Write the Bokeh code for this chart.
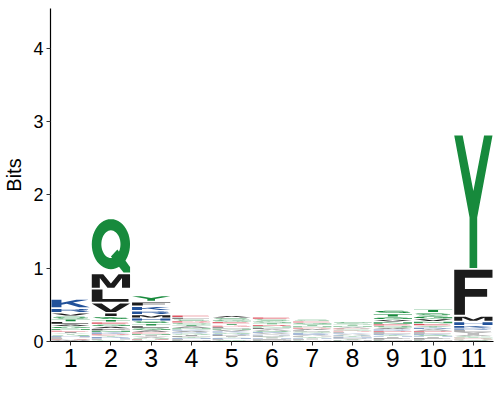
import math
from bokeh.plotting import figure
from bokeh.embed import file_html
from bokeh.resources import INLINE
from bokeh.models import ColumnDataSource, FixedTicker

# ---------------- data ----------------
positions = list(range(1, 12))
y_ticks = [0, 1, 2, 3, 4]

letters_1 = ["K","R","V","S","L","T","G","A","N","I","E","Y","Q","H","P","F","D","M","W","C"]
bits_1 = [0.124,0.065,0.045,0.04,0.035,0.035,0.03,0.03,0.025,0.02,0.02,0.018,0.016,0.015,0.014,0.012,0.011,0.01,0.008,0.007]

letters_2 = ["Q","M","L","V","I","S","T","A","G","E","N","F","K","Y","D","R","H","P","C","W"]
bits_2 = [0.75,0.21,0.19,0.14,0.05,0.04,0.035,0.03,0.03,0.03,0.025,0.025,0.022,0.02,0.02,0.018,0.015,0.012,0.01,0.008]

letters_3 = ["Y","F","K","R","M","H","S","T","G","L","A","E","N","I","V","Q","D","P","C","W"]
bits_3 = [0.085,0.065,0.06,0.055,0.045,0.04,0.035,0.032,0.03,0.03,0.025,0.022,0.02,0.018,0.016,0.015,0.012,0.01,0.008,0.007]

letters_4 = ["E","L","D","S","G","T","A","K","N","V","R","Q","I","P","Y","H","F","M","C","W"]
bits_4 = [0.028,0.026,0.025,0.025,0.024,0.023,0.022,0.02,0.02,0.019,0.018,0.017,0.016,0.015,0.014,0.013,0.012,0.009,0.007,0.005]

letters_5 = ["A","S","G","E","T","D","L","N","V","K","Q","R","P","I","Y","H","F","M","C","W"]
bits_5 = [0.03,0.028,0.026,0.025,0.024,0.022,0.021,0.02,0.019,0.018,0.017,0.016,0.015,0.014,0.013,0.012,0.01,0.009,0.008,0.006]

letters_6 = ["E","S","G","T","D","N","L","A","Q","K","V","R","P","Y","I","H","F","C","M","W"]
bits_6 = [0.028,0.026,0.025,0.024,0.023,0.021,0.02,0.019,0.018,0.017,0.016,0.015,0.014,0.013,0.012,0.011,0.01,0.008,0.008,0.005]

letters_7 = ["S","E","G","T","N","D","A","Q","L","K","R","V","P","Y","H","I","F","C","M","W"]
bits_7 = [0.024,0.023,0.022,0.021,0.02,0.019,0.018,0.017,0.017,0.016,0.015,0.014,0.013,0.012,0.011,0.01,0.009,0.008,0.007,0.005]

letters_8 = ["G","S","T","N","E","A","D","Q","K","L","R","V","P","Y","H","I","F","C","M","W"]
bits_8 = [0.02,0.019,0.018,0.017,0.016,0.016,0.015,0.015,0.014,0.014,0.013,0.013,0.012,0.012,0.011,0.01,0.01,0.009,0.008,0.007]

letters_9 = ["S","T","G","N","V","Q","E","A","L","D","R","K","Y","H","I","P","F","C","M","W"]
bits_9 = [0.05,0.045,0.035,0.03,0.03,0.025,0.025,0.022,0.02,0.02,0.02,0.018,0.016,0.014,0.013,0.012,0.01,0.009,0.008,0.006]

letters_10 = ["T","S","G","V","N","E","Y","A","R","L","D","K","Q","H","I","P","F","C","M","W"]
bits_10 = [0.05,0.045,0.04,0.035,0.03,0.028,0.025,0.022,0.022,0.02,0.02,0.018,0.016,0.014,0.013,0.012,0.01,0.009,0.008,0.006]

letters_11 = ["Y","F","M","H","K","L","R","I","V","A","S","T","G","E","D","N","Q","P","C","W"]
bits_11 = [1.83,0.64,0.08,0.055,0.035,0.025,0.025,0.02,0.02,0.015,0.014,0.01,0.008,0.008,0.007,0.007,0.006,0.006,0.005,0.005]

all_letters = [letters_1, letters_2, letters_3, letters_4, letters_5, letters_6,
               letters_7, letters_8, letters_9, letters_10, letters_11]
all_bits = [bits_1, bits_2, bits_3, bits_4, bits_5, bits_6,
            bits_7, bits_8, bits_9, bits_10, bits_11]

# ---------------- colours ----------------
GREEN, BLUE, RED, BLACK = "#178A3C", "#22529A", "#D62839", "#1B1B1B"
COLORS = {}
for c in "GSTYCQN":
    COLORS[c] = GREEN
for c in "KRH":
    COLORS[c] = BLUE
for c in "DE":
    COLORS[c] = RED
for c in "AVLIPWFM":
    COLORS[c] = BLACK

# ---------------- letter shapes (unit box) ----------------
def arc(cx, cy, rx, ry, a0, a1, n=28):
    pts = []
    for i in range(n + 1):
        a = math.radians(a0 + (a1 - a0) * i / n)
        pts.append((cx + rx * math.cos(a), cy + ry * math.sin(a)))
    return pts

def area(r):
    s = 0.0
    for i in range(len(r)):
        x0, y0 = r[i]
        x1, y1 = r[(i + 1) % len(r)]
        s += x0 * y1 - x1 * y0
    return 0.5 * s

def orient(r, ccw=True):
    if (area(r) > 0) != ccw:
        r = r[::-1]
    return r

def piece(ext, *holes):
    return [orient(ext, True)] + [orient(h, False) for h in holes]

def stroke(pts, hw):
    left, right = [], []
    n = len(pts)
    for i in range(n):
        p0 = pts[max(i - 1, 0)]
        p1 = pts[min(i + 1, n - 1)]
        dx, dy = p1[0] - p0[0], p1[1] - p0[1]
        L = math.hypot(dx, dy) or 1.0
        nx, ny = -dy / L, dx / L
        left.append((pts[i][0] + nx * hw, pts[i][1] + ny * hw))
        right.append((pts[i][0] - nx * hw, pts[i][1] - ny * hw))
    return left + right[::-1]

SHAPES = {}
SHAPES["A"] = [piece([(0,0),(0.26,0),(0.33,0.22),(0.67,0.22),(0.74,0),(1,0),(0.63,1),(0.37,1)],
                     [(0.39,0.38),(0.61,0.38),(0.5,0.72)])]
SHAPES["C"] = [piece(arc(0.5,0.5,0.5,0.5,40,320) + arc(0.5,0.5,0.25,0.29,320,40))]
SHAPES["D"] = [piece([(0,0),(0.45,0)] + arc(0.45,0.5,0.55,0.5,-90,90) + [(0.45,1),(0,1)],
                     [(0.26,0.19),(0.45,0.19)] + arc(0.45,0.5,0.29,0.31,-90,90) + [(0.45,0.81),(0.26,0.81)])]
SHAPES["E"] = [piece([(0,0),(0.96,0),(0.96,0.18),(0.27,0.18),(0.27,0.42),(0.88,0.42),(0.88,0.59),
                      (0.27,0.59),(0.27,0.82),(0.94,0.82),(0.94,1),(0,1)])]
SHAPES["F"] = [piece([(0,0),(0.28,0),(0.28,0.4),(0.86,0.4),(0.86,0.57),(0.28,0.57),(0.28,0.82),
                      (1,0.82),(1,1),(0,1)])]
SHAPES["G"] = [piece(arc(0.5,0.5,0.5,0.5,35,330) + arc(0.5,0.5,0.25,0.29,330,35)),
               piece([(0.76,0.06),(1.0,0.06),(1.0,0.56),(0.52,0.56),(0.52,0.4),(0.76,0.4)])]
SHAPES["H"] = [piece([(0,0),(0.26,0),(0.26,0.41),(0.74,0.41),(0.74,0),(1,0),(1,1),(0.74,1),
                      (0.74,0.6),(0.26,0.6),(0.26,1),(0,1)])]
SHAPES["I"] = [piece([(0.35,0),(0.65,0),(0.65,1),(0.35,1)])]
SHAPES["K"] = [piece([(0,0),(0.26,0),(0.26,0.33),(0.4,0.47),(0.72,0),(1,0),(0.56,0.63),(0.97,1),
                      (0.65,1),(0.26,0.6),(0.26,1),(0,1)])]
SHAPES["L"] = [piece([(0,0),(0.96,0),(0.96,0.22),(0.28,0.22),(0.28,1),(0,1)])]
SHAPES["M"] = [piece([(0,0),(0.21,0),(0.21,0.72),(0.41,0),(0.59,0),(0.79,0.72),(0.79,0),(1,0),
                      (1,1),(0.7,1),(0.5,0.32),(0.3,1),(0,1)])]
SHAPES["N"] = [piece([(0,0),(0.23,0),(0.23,0.66),(0.74,0),(1,0),(1,1),(0.77,1),(0.77,0.34),
                      (0.26,1),(0,1)])]
SHAPES["P"] = [piece([(0,0),(0.26,0),(0.26,0.38),(0.6,0.38)] + arc(0.6,0.69,0.4,0.31,-90,90) + [(0.6,1),(0,1)],
                     [(0.26,0.54),(0.58,0.54)] + arc(0.58,0.69,0.16,0.15,-90,90) + [(0.58,0.84),(0.26,0.84)])]
SHAPES["Q"] = [piece(arc(0.5,0.53,0.5,0.47,0,360,48)[:-1], arc(0.5,0.53,0.25,0.26,0,360,48)[:-1]),
               piece([(0.5,0.3),(0.67,0.43),(1.0,0.1),(1.0,0.0),(0.83,0.0)])]
SHAPES["R"] = [piece([(0,0),(0.26,0),(0.26,0.42),(0.58,0.42)] + arc(0.58,0.71,0.38,0.29,-90,90) + [(0.58,1),(0,1)],
                     [(0.26,0.57),(0.56,0.57)] + arc(0.56,0.715,0.17,0.145,-90,90) + [(0.56,0.86),(0.26,0.86)]),
               piece([(0.5,0.46),(0.75,0.46),(1.0,0),(0.73,0)])]
_ry = 0.205
_s_center = arc(0.5, 0.5 + _ry, 0.37, _ry, 20, 270) + arc(0.5, 0.5 - _ry, 0.37, _ry, 90, -160)[1:]
SHAPES["S"] = [piece(stroke(_s_center, 0.09))]
SHAPES["T"] = [piece([(0.37,0),(0.63,0),(0.63,0.82),(1,0.82),(1,1),(0,1),(0,0.82),(0.37,0.82)])]
SHAPES["V"] = [piece([(0.37,0),(0.63,0),(1,1),(0.74,1),(0.5,0.28),(0.26,1),(0,1)])]
SHAPES["W"] = [piece([(0.17,0),(0.4,0),(0.5,0.58),(0.6,0),(0.83,0),(1,1),(0.8,1),(0.71,0.36),
                      (0.61,1),(0.39,1),(0.29,0.36),(0.2,1),(0,1)])]
SHAPES["Y"] = [piece([(0.4,0),(0.6,0),(0.6,0.38),(1,1),(0.78,1),(0.5,0.58),(0.22,1),(0,1),(0.4,0.38)])]

# ---------------- build stacks ----------------
W = 0.95          # letter width (x units)
GAP = 0.012       # vertical white gap at each side of a letter (bits)
rows_x, rows_y, rows_c, rows_a = [], [], [], []
for pos, letters, bits in zip(positions, all_letters, all_bits):
    order = sorted(range(len(bits)), key=lambda i: bits[i])
    base = 0.0
    for i in order:
        h = bits[i]
        ch = letters[i]
        g = min(GAP, 0.18 * h)
        y0, hh = base + g, h - 2 * g
        alpha = max(0.55, min(1.0, h / 0.035))
        for pc in SHAPES[ch]:
            xs = [[pos - W / 2 + W * x for x, y in ring] for ring in pc]
            ys = [[y0 + hh * y for x, y in ring] for ring in pc]
            rows_x.append([xs])
            rows_y.append([ys])
            rows_c.append(COLORS[ch])
            rows_a.append(alpha)
        base += h

src = ColumnDataSource(dict(xs=rows_x, ys=rows_y, color=rows_c, alpha=rows_a))

p = figure(width=500, height=400, x_range=(0.5, 11.5), y_range=(0, 4.54),
           output_backend="svg", toolbar_location=None,
           min_border_left=45, min_border_right=7, min_border_top=8, min_border_bottom=59)
p.multi_polygons(xs="xs", ys="ys", fill_color="color", fill_alpha="alpha",
                 line_color=None, source=src)

FONT = "Liberation Sans"
p.xgrid.visible = False
p.ygrid.visible = False
p.outline_line_color = None
p.background_fill_color = "white"
p.border_fill_color = "white"

p.xaxis.ticker = FixedTicker(ticks=positions)
p.yaxis.ticker = FixedTicker(ticks=y_ticks)
for ax in (p.xaxis[0], p.yaxis[0]):
    ax.axis_line_color = "black"
    ax.axis_line_width = 1.2
    ax.major_tick_line_color = "#333333"
    ax.major_tick_in = 0
    ax.major_tick_out = 4
    ax.minor_tick_line_color = None
    ax.major_label_text_font = FONT
    ax.major_label_text_color = "black"

p.xaxis[0].major_label_text_font_size = "25px"
p.xaxis[0].major_label_standoff = 3
p.yaxis[0].major_label_text_font_size = "18px"
p.yaxis[0].major_label_standoff = 3
p.yaxis[0].axis_label = "Bits"
p.yaxis[0].axis_label_text_font = FONT
p.yaxis[0].axis_label_text_font_size = "20px"
p.yaxis[0].axis_label_text_font_style = "normal"
p.yaxis[0].axis_label_text_color = "black"
p.yaxis[0].axis_label_standoff = 5

open("out.html", "w").write(file_html(p, INLINE))
